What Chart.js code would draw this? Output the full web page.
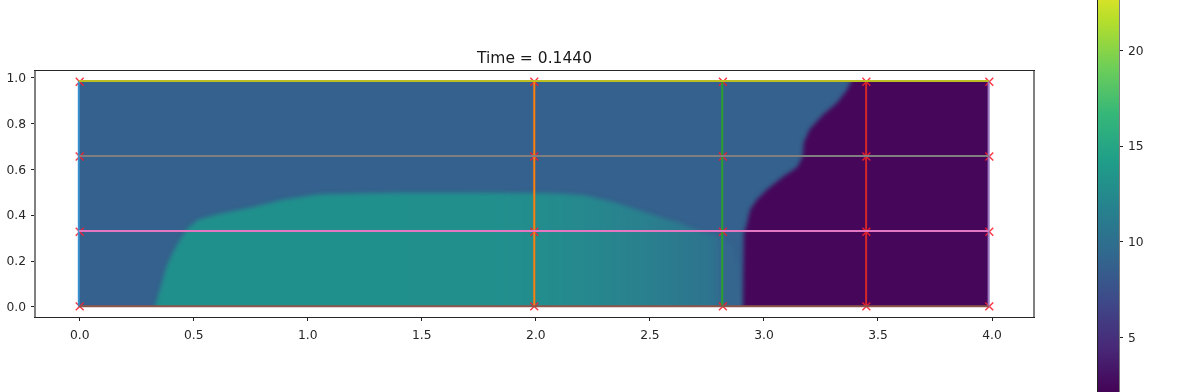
<!DOCTYPE html>
<html>
<head>
<meta charset="utf-8">
<style>
html,body{margin:0;padding:0;background:#fff;width:1196px;height:392px;overflow:hidden}
canvas{position:absolute;top:0;filter:blur(0.3px)}
</style>
<script src="https://cdn.jsdelivr.net/npm/chart.js@4/dist/chart.umd.min.js"></script>
</head>
<body>
<canvas id="main" width="1196" height="392" style="left:0"></canvas>
<canvas id="bar" width="99" height="392" style="left:1097px"></canvas>
<script>
// ---- data ----
const titleText = 'Time = 0.1440';
const xTickStep = 0.5;
const xRange = [-0.196, 4.184];
const yRange = [-0.0445, 1.034];
const yTicksMain = [0, 0.2, 0.4, 0.6, 0.8, 1.0];
const fieldX = [-0.005, 3.987];
const fieldY = [0.002, 0.985];

const markerXs = [0, 1.993, 2.82, 3.449, 3.988];
const markerYs = [0.002, 0.328, 0.656, 0.983];
const vLineXs = [-0.004, 1.993, 2.817, 3.448, 3.985];
const hLineYs = [0.002, 0.331, 0.6585, 0.986];
const lineXEnds = [-0.004, 3.985];
const lineYEnds = [0.002, 0.986];
const vLineColors = ['#3a90cc', '#ff7f0e', '#2ca02c', '#d62728', '#9a78c2'];
const hLineColors = ['#8c564b', '#e377c2', '#7f7f7f', '#bcbd22'];

const baseX = [-0.05, 4.05];
const baseY = [1.03, 1.03];
const tealX = [0.20, 0.30, 0.33, 0.35, 0.381, 0.41, 0.44, 0.475, 0.52, 0.60, 0.747, 0.89, 1.04, 1.2, 1.4, 1.7, 2.02, 2.1, 2.21, 2.33, 2.457, 2.55, 2.63, 2.72, 2.80, 2.87, 2.92, 2.95];
const tealY = [-0.03, -0.03, 0.0, 0.07, 0.177, 0.24, 0.293, 0.345, 0.38, 0.403, 0.433, 0.468, 0.49, 0.495, 0.498, 0.498, 0.497, 0.495, 0.487, 0.46, 0.42, 0.39, 0.367, 0.33, 0.31, 0.26, 0.0, -0.03];
const tealStopX = [0.3, 1.8, 2.2, 2.5, 2.7, 2.78, 2.81, 2.85];
const tealStopC = ['#20908c', '#21908d', '#25898e', '#2a7f8e', '#2d768e', '#2e728f', '#33688e', '#35668e'];
const purpleX = [2.78, 2.90, 2.908, 2.912, 2.922, 2.94, 2.97, 3.014, 3.085, 3.145, 3.17, 3.175, 3.2, 3.26, 3.32, 3.365, 3.385, 3.42, 4.05];
const purpleY = [-0.03, -0.03, 0.0, 0.32, 0.35, 0.425, 0.469, 0.512, 0.569, 0.608, 0.656, 0.717, 0.774, 0.84, 0.89, 0.948, 0.99, 1.03, 1.03];
const blueColor = '#34618d';
const purpleColor = '#46065a';

const colorbarTicks = [5, 10, 15, 20];
const colorbarRange = [2.15, 22.64];
const climits = [2, 24];
const viridis = ['#440154','#482878','#3e4989','#31688e','#26828e','#1f9e89','#35b779','#6ece58','#b5de2b','#fde725'];

// ---- helpers ----
const FONT = '"DejaVu Sans"';
const pts = (xs, ys) => xs.map((x, i) => ({x, y: ys[i]}));

// soft edges of the field image: own plugin runs before the filler hook
const softField = {
  id: 'softField',
  beforeDatasetDraw(chart, args) {
    if (!chart.data.datasets[args.index].isField) return;
    const {ctx, scales:{x, y}} = chart;
    ctx.save();
    const l = x.getPixelForValue(fieldX[0]), r = x.getPixelForValue(fieldX[1]);
    const t = y.getPixelForValue(fieldY[1]), b = y.getPixelForValue(fieldY[0]);
    ctx.beginPath(); ctx.rect(l, t, r - l, b - t); ctx.clip();
    ctx.filter = 'blur(1.9px)';
  },
  afterDatasetDraw(chart, args) {
    if (chart.data.datasets[args.index].isField) chart.ctx.restore();
  }
};
const filler = Chart.registry.plugins.get('filler');
Chart.unregister(filler);
Chart.register(softField);
Chart.register(filler);

const frame = {
  id: 'frame',
  afterDatasetsDraw(chart) {
    const {ctx, chartArea:a} = chart;
    ctx.save();
    ctx.strokeStyle = '#808080'; ctx.lineWidth = 2;
    ctx.beginPath(); ctx.moveTo(a.left, a.top); ctx.lineTo(a.left, a.bottom);
    ctx.moveTo(a.right, a.top); ctx.lineTo(a.right, a.bottom); ctx.stroke();
    ctx.strokeStyle = '#262626'; ctx.lineWidth = 1.2;
    ctx.beginPath(); ctx.moveTo(a.left - 1, a.top + 0.5); ctx.lineTo(a.right + 1, a.top + 0.5);
    ctx.moveTo(a.left - 1, a.bottom + 0.5); ctx.lineTo(a.right + 1, a.bottom + 0.5); ctx.stroke();
    ctx.restore();
  }
};

const fieldDs = (xs, ys, color) => ({
  isField: true, data: pts(xs, ys), backgroundColor: color, borderWidth: 0, pointRadius: 0,
  tension: 0, fill: {target: {value: -0.03}}
});
const tealGradient = ctx => {
  const xs = ctx.chart.scales.x;
  const x0 = xs && xs.getPixelForValue(tealStopX[0]), x1 = xs && xs.getPixelForValue(tealStopX[tealStopX.length - 1]);
  if (!Number.isFinite(x0) || !Number.isFinite(x1)) return tealStopC[0];
  const g = ctx.chart.ctx.createLinearGradient(x0, 0, x1, 0);
  tealStopX.forEach((v, i) => g.addColorStop((v - tealStopX[0]) / (tealStopX[tealStopX.length - 1] - tealStopX[0]), tealStopC[i]));
  return g;
};
const lineDs = (xs, ys, color) => ({
  data: pts(xs, ys), borderColor: color, borderWidth: 2, pointRadius: 0, tension: 0, fill: false
});

const drawOrder = [
  fieldDs(baseX, baseY, blueColor),
  fieldDs(tealX, tealY, tealGradient),
  fieldDs(purpleX, purpleY, purpleColor),
  {
    data: markerXs.flatMap(x => markerYs.map(y => ({x, y}))),
    showLine: false, pointStyle: 'crossRot', pointRadius: 5.6,
    pointBorderColor: 'rgba(250,30,45,.9)', pointBorderWidth: 1.4, pointBackgroundColor: 'transparent'
  },
  ...vLineXs.map((x, i) => lineDs([x, x], lineYEnds, vLineColors[i])),
  ...hLineYs.map((y, i) => lineDs(lineXEnds, [y, y], hLineColors[i]))
];
drawOrder.forEach((d, i) => { d.order = drawOrder.length - i; });

new Chart(document.getElementById('main'), {
  type: 'line',
  data: {datasets: drawOrder},
  plugins: [frame],
  options: {
    responsive: false, animation: false, events: [],
    layout: {padding: {left: 0, right: 162, top: 0, bottom: 0}},
    plugins: {
      legend: {display: false}, tooltip: {enabled: false},
      title: {
        display: true, text: titleText, fullSize: false, color: '#1a1a1a',
        font: {family: FONT, size: 15.5, weight: 'normal', lineHeight: 1.2},
        padding: {top: 49.5, bottom: 1.9}
      }
    },
    scales: {
      x: {
        type: 'linear', min: xRange[0], max: xRange[1],
        grid: {drawOnChartArea: false, drawTicks: true, tickLength: 4, tickColor: '#222', tickWidth: 1},
        border: {display: false},
        ticks: {stepSize: xTickStep, includeBounds: false, autoSkip: false, maxRotation: 0, padding: 7,
          color: '#262626', font: {family: FONT, size: 12.3}, callback: v => Number(v).toFixed(1)},
        afterFit: s => { s.height = 75; }
      },
      y: {
        type: 'linear', min: yRange[0], max: yRange[1],
        grid: {drawOnChartArea: false, drawTicks: true, tickLength: 4, tickColor: '#222', tickWidth: 1},
        border: {display: false},
        afterBuildTicks: s => { s.ticks = yTicksMain.map(value => ({value})); },
        ticks: {autoSkip: false, padding: 5, labelOffset: 1, color: '#262626', font: {family: FONT, size: 12.3},
          callback: v => Number(v).toFixed(1)},
        afterFit: s => { s.width = 35; }
      }
    }
  }
});

const colorbarEdge = {
  id: 'colorbarEdge',
  afterDraw(chart) {
    const {ctx, chartArea:a} = chart;
    ctx.save();
    ctx.strokeStyle = '#222'; ctx.lineWidth = 1;
    ctx.beginPath(); ctx.moveTo(0.5, 0); ctx.lineTo(0.5, 392); ctx.stroke();
    ctx.strokeStyle = '#808080';
    ctx.beginPath(); ctx.moveTo(a.right + 0.5, 0); ctx.lineTo(a.right + 0.5, 392); ctx.stroke();
    ctx.restore();
  }
};
new Chart(document.getElementById('bar'), {
  type: 'bar',
  data: {
    labels: [''],
    datasets: [{
      data: [climits],
      barPercentage: 1, categoryPercentage: 1, borderWidth: 0,
      backgroundColor: ctx => {
        const y = ctx.chart.scales.y;
        const y0 = y && y.getPixelForValue(climits[0]), y1 = y && y.getPixelForValue(climits[1]);
        if (!Number.isFinite(y0) || !Number.isFinite(y1)) return viridis[0];
        const g = ctx.chart.ctx.createLinearGradient(0, y0, 0, y1);
        viridis.forEach((c, i) => g.addColorStop(i / (viridis.length - 1), c));
        return g;
      }
    }]
  },
  plugins: [colorbarEdge],
  options: {
    responsive: false, animation: false, events: [],
    layout: {padding: 0},
    plugins: {legend: {display: false}, tooltip: {enabled: false}, title: {display: false}},
    scales: {
      x: {display: false},
      y: {
        position: 'right', min: colorbarRange[0], max: colorbarRange[1],
        grid: {drawOnChartArea: false, drawTicks: true, tickLength: 4, tickColor: '#222'},
        border: {display: false},
        afterBuildTicks: s => { s.ticks = colorbarTicks.map(value => ({value})); },
        ticks: {autoSkip: false, padding: 5, labelOffset: 1, color: '#262626', font: {family: FONT, size: 12.3}},
        afterFit: s => { s.width = 77; s.paddingTop = 0; s.paddingBottom = 0; }
      }
    }
  }
});
</script>
</body>
</html>
